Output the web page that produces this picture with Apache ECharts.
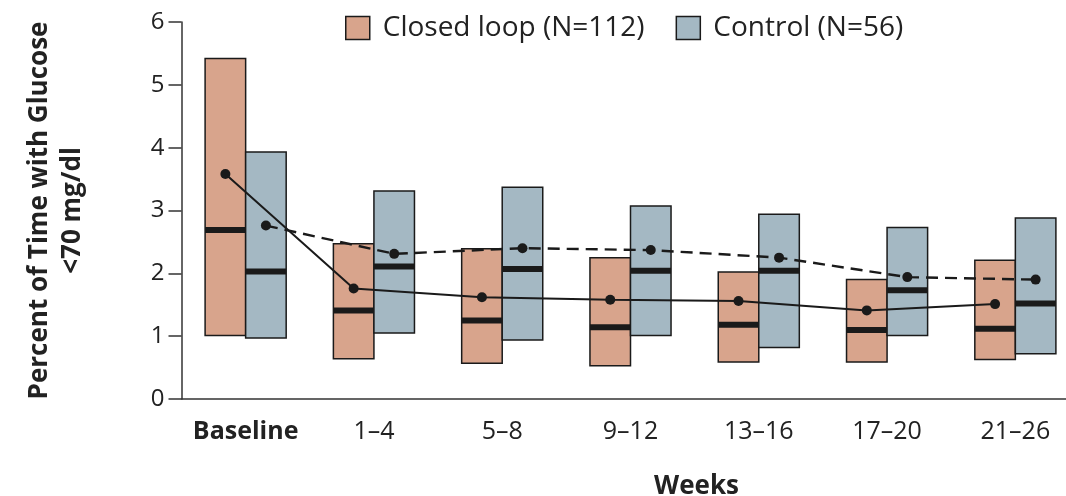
<!DOCTYPE html>
<html>
<head>
<meta charset="utf-8">
<script src="https://cdn.jsdelivr.net/npm/echarts@6/dist/echarts.min.js"></script>
<style>
html,body{margin:0;padding:0;background:#ffffff;}
#chart{width:1066px;height:496px;}
</style>
</head>
<body>
<div id="chart"></div>
<script>
// ---- data ----
const categories = ['Baseline', '1\u20134', '5\u20138', '9\u201312', '13\u201316', '17\u201320', '21\u201326'];
const yTicks = [0, 1, 2, 3, 4, 5, 6];
// Closed loop (N=112): interquartile range and median
const closedQ1     = [1.01, 0.64, 0.57, 0.53, 0.59, 0.59, 0.63];
const closedMedian = [2.69, 1.41, 1.25, 1.14, 1.18, 1.10, 1.12];
const closedQ3     = [5.42, 2.47, 2.39, 2.25, 2.02, 1.90, 2.21];
const closedMean   = [3.58, 1.76, 1.62, 1.58, 1.56, 1.41, 1.51];
// Control (N=56)
const controlQ1     = [0.97, 1.05, 0.94, 1.01, 0.82, 1.01, 0.72];
const controlMedian = [2.03, 2.11, 2.07, 2.04, 2.04, 1.73, 1.52];
const controlQ3     = [3.93, 3.31, 3.37, 3.07, 2.94, 2.73, 2.88];
const controlMean   = [2.76, 2.31, 2.40, 2.37, 2.25, 1.94, 1.90];

const closedColor = '#D8A48C';
const controlColor = '#A4B8C3';
const ink = '#1a1a1a';
const FONT = '"Open Sans", "Liberation Sans", sans-serif';
const BOX_FRAC = 0.316; // box width as a fraction of category band

function boxSeries(name, q1, med, q3, color, side) {
  return {
    name: name,
    type: 'custom',
    xAxisIndex: 0,
    yAxisIndex: 0,
    itemStyle: { color: color, borderColor: ink, borderWidth: 1.5 },
    data: categories.map((c, i) => [i, q1[i], med[i], q3[i]]),
    renderItem: function (params, api) {
      const idx = api.value(0);
      const pLow = api.coord([idx, api.value(1)]);
      const pMed = api.coord([idx, api.value(2)]);
      const pHigh = api.coord([idx, api.value(3)]);
      const band = api.size([1, 0])[0];
      const w = band * BOX_FRAC;
      const x0 = side < 0 ? pLow[0] - w : pLow[0];
      return {
        type: 'group',
        children: [
          {
            type: 'rect',
            shape: { x: x0, y: pHigh[1], width: w, height: pLow[1] - pHigh[1] },
            style: { fill: color, stroke: ink, lineWidth: 1.5 }
          },
          {
            type: 'rect',
            shape: { x: x0, y: pMed[1] - 3, width: w, height: 6 },
            style: { fill: ink }
          }
        ]
      };
    },
    z: 2
  };
}

function meanSeries(name, means, side, dashed) {
  return {
    name: name,
    type: 'line',
    xAxisIndex: 1,
    yAxisIndex: 0,
    data: means.map((v, i) => [i + side * BOX_FRAC / 2, v]),
    symbol: 'circle',
    symbolSize: 10,
    showSymbol: true,
    itemStyle: { color: ink },
    lineStyle: { color: ink, width: dashed ? 2.4 : 2, type: dashed ? [12, 7] : 'solid' },
    z: 5,
    silent: true,
    animation: false
  };
}

const chart = echarts.init(document.getElementById('chart'), null, { renderer: 'canvas' });
chart.setOption({
  backgroundColor: '#ffffff',
  animation: false,
  textStyle: { fontFamily: FONT },
  grid: { left: 181.5, top: 22, width: 898, bottom: 97, containLabel: false, outerBoundsMode: 'none' },
  legend: {
    left: 340,
    top: 9,
    itemWidth: 24,
    itemHeight: 23,
    itemGap: 31,
    icon: 'rect',
    textStyle: { fontFamily: FONT, fontSize: 28, color: '#222', padding: [0, 0, 0, 8] },
    data: [
      { name: 'Closed loop (N=112)', itemStyle: { color: closedColor, borderColor: ink, borderWidth: 1.5 } },
      { name: 'Control (N=56)', itemStyle: { color: controlColor, borderColor: ink, borderWidth: 1.5 } }
    ]
  },
  xAxis: [
    {
      type: 'category',
      data: categories,
      boundaryGap: true,
      name: 'Weeks',
      nameLocation: 'middle',
      nameGap: 75,
      nameTextStyle: { fontFamily: FONT, fontSize: 26, fontWeight: 'bold', color: '#222', padding: [0, 0, 0, 132] },
      axisLine: { onZero: false, lineStyle: { color: '#333', width: 1.5 } },
      axisTick: { alignWithLabel: true, interval: 0, length: 12, lineStyle: { color: '#333', width: 1.5 } },
      axisLabel: {
        interval: 0,
        margin: 20,
        fontFamily: FONT,
        fontSize: 25,
        color: '#222',
        formatter: function (v) { return v === 'Baseline' ? '{b|' + v + '}' : v; },
        rich: { b: { fontFamily: FONT, fontSize: 25, fontWeight: 'bold', color: '#222' } }
      },
      splitLine: { show: false }
    },
    {
      type: 'value',
      min: -0.5,
      max: categories.length - 0.5,
      show: false
    }
  ],
  yAxis: {
    type: 'value',
    min: yTicks[0],
    max: yTicks[yTicks.length - 1],
    interval: 1,
    name: 'Percent of Time with Glucose\n<70 mg/dl',
    nameLocation: 'middle',
    nameRotate: 90,
    nameGap: 92,
    nameTextStyle: { fontFamily: FONT, fontSize: 26, fontWeight: 'bold', color: '#222', lineHeight: 33 },
    axisLine: { show: true, onZero: false, lineStyle: { color: '#333', width: 1.5 } },
    axisTick: { show: true, length: 13, lineStyle: { color: '#333', width: 1.5 } },
    axisLabel: { margin: 17, fontFamily: FONT, fontSize: 24, color: '#222' },
    splitLine: { show: false }
  },
  series: [
    boxSeries('Closed loop (N=112)', closedQ1, closedMedian, closedQ3, closedColor, -1),
    boxSeries('Control (N=56)', controlQ1, controlMedian, controlQ3, controlColor, 1),
    meanSeries('Closed loop mean', closedMean, -1, false),
    meanSeries('Control mean', controlMean, 1, true)
  ]
});
</script>
</body>
</html>
